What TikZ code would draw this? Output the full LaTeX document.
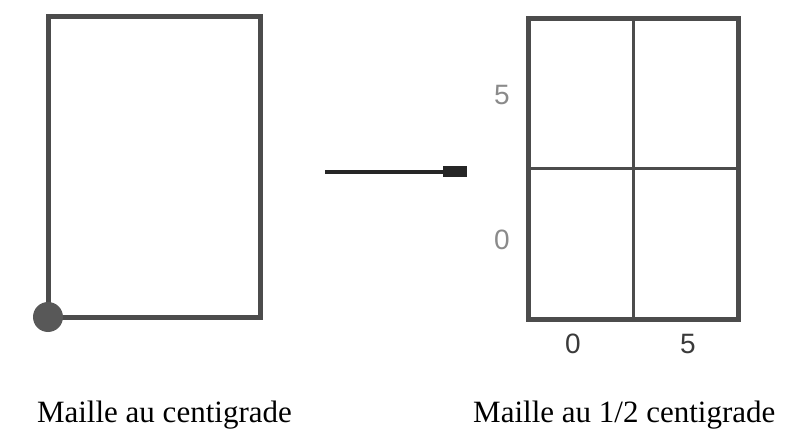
\documentclass[tikz,border=0pt]{standalone}
\usepackage{fontspec}
\setmainfont{Liberation Serif}
\newfontfamily\numfont{Liberation Sans}
\usetikzlibrary{arrows.meta}
\definecolor{framegray}{HTML}{4C4C4C}
\definecolor{dotgray}{HTML}{585858}
\definecolor{arrowgray}{HTML}{262626}
\definecolor{lightnum}{HTML}{8A8A8A}
\definecolor{darknum}{HTML}{3A3A3A}
\begin{document}
\begin{tikzpicture}[x=1pt,y=-1pt,
  framebox/.style={draw=framegray,line width=5pt,inner sep=0pt,outer sep=0pt},
  divider/.style={draw=framegray,line width=3pt},
  numlabel/.style={font=\numfont\fontsize{28}{30}\selectfont,inner sep=0pt},
  caption/.style={font=\fontsize{31}{36}\selectfont,inner sep=0pt},
  arrowline/.style={draw=arrowgray,line width=4pt,-{Rectangle[length=24pt,width=11pt]}}
  ]
\useasboundingbox (0,0) rectangle (786,430);
% left mesh
\node[framebox,minimum width=212pt,minimum height=300pt] (L) at (154,167) {};
\node[circle,fill=dotgray,minimum size=30pt,inner sep=0pt] (dot) at (L.south west) {};
% right mesh
\node[framebox,minimum width=210pt,minimum height=300pt] (R) at (633,169) {};
\draw[divider] (R.north) -- (R.south);
\draw[divider] (R.west) -- (R.east);
% arrow
\coordinate (a1) at (325,172);
\coordinate (a2) at (467,172);
\draw[arrowline] (a1) -- (a2);
% axis labels
\node[numlabel,text=lightnum] (y5) at (502,95) {5};
\node[numlabel,text=lightnum] (y0) at (502,240) {0};
\node[numlabel,text=darknum] (x0) at (573,344) {0};
\node[numlabel,text=darknum] (x5) at (688,344) {5};
% captions
\node[caption,anchor=base east] (capL) at (292,422) {Maille au centigrade};
\node[caption,anchor=base west] (capR) at (473,422) {Maille au 1/2 centigrade};
\end{tikzpicture}
\end{document}
